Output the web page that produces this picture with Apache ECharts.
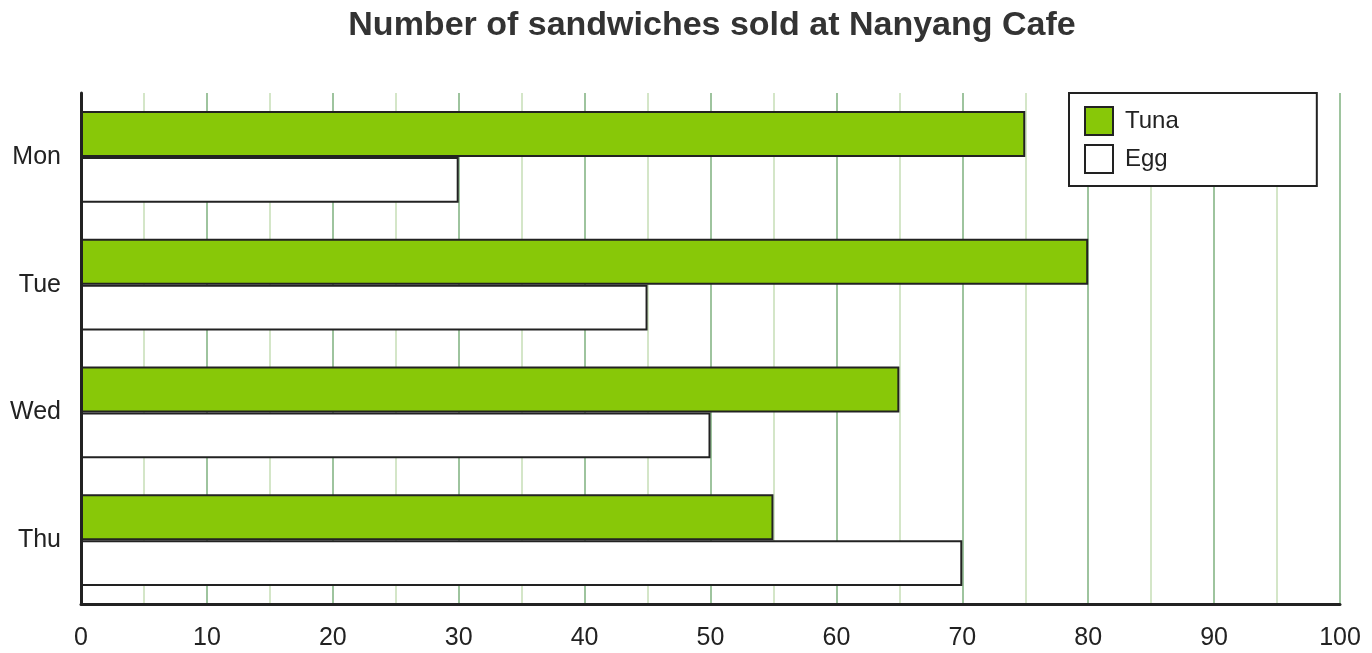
<!DOCTYPE html>
<html>
<head>
<meta charset="utf-8">
<script src="https://cdn.jsdelivr.net/npm/echarts@6/dist/echarts.min.js"></script>
<style>html,body{margin:0;padding:0;background:#fff}#c{width:1372px;height:653px}</style>
</head>
<body>
<div id="c"></div>
<script>
const categories = ['Mon', 'Tue', 'Wed', 'Thu'];
const tuna = [75, 80, 65, 55];
const egg = [30, 45, 50, 70];
const seriesNames = ['Tuna', 'Egg'];

const chart = echarts.init(document.getElementById('c'), null, {renderer: 'canvas'});
const font = 'Liberation Sans, Arial, sans-serif';
chart.setOption({
  animation: false,
  backgroundColor: '#fff',
  title: {
    text: 'Number of sandwiches sold at Nanyang Cafe',
    left: 707, top: 4, textAlign: 'center',
    textStyle: {fontFamily: font, fontSize: 34, fontWeight: 'bold', color: '#333'}
  },
  legend: {
    orient: 'vertical', left: 1069, top: 93,
    backgroundColor: '#fff', borderColor: '#222', borderWidth: 2,
    padding: [13, 138, 12, 15], itemGap: 8,
    itemWidth: 28, itemHeight: 28, icon: 'rect',
    textStyle: {fontFamily: font, fontSize: 24, color: '#222', lineHeight: 28, padding: [0, 0, 0, 7]},
    data: seriesNames
  },
  grid: {left: 81, right: 32, top: 93, bottom: 49, containLabel: false},
  xAxis: {
    type: 'value', min: 0, max: 100, interval: 10,
    axisLine: {show: true, lineStyle: {color: '#222', width: 3}},
    axisTick: {show: false},
    axisLabel: {fontFamily: font, fontSize: 25, color: '#222', margin: 22},
    splitLine: {show: true, lineStyle: {color: '#9ec49e', width: 2}},
    minorTick: {show: false, splitNumber: 2},
    minorSplitLine: {show: true, lineStyle: {color: '#d4e6c8', width: 2}}
  },
  yAxis: {
    type: 'category', data: categories, inverse: true,
    axisLine: {show: true, lineStyle: {color: '#222', width: 3}},
    axisTick: {show: false},
    axisLabel: {fontFamily: font, fontSize: 25, color: '#222', margin: 20, padding: [4, 0, 0, 0]},
    splitLine: {show: false}
  },
  series: [
    {name: seriesNames[0], type: 'bar', data: tuna, barGap: '0%', barCategoryGap: '28%',
     itemStyle: {color: '#88c808', borderColor: '#222', borderWidth: 2}},
    {name: seriesNames[1], type: 'bar', data: egg, barGap: '0%', barCategoryGap: '28%',
     itemStyle: {color: '#fff', borderColor: '#222', borderWidth: 2}}
  ]
});
</script>
</body>
</html>
